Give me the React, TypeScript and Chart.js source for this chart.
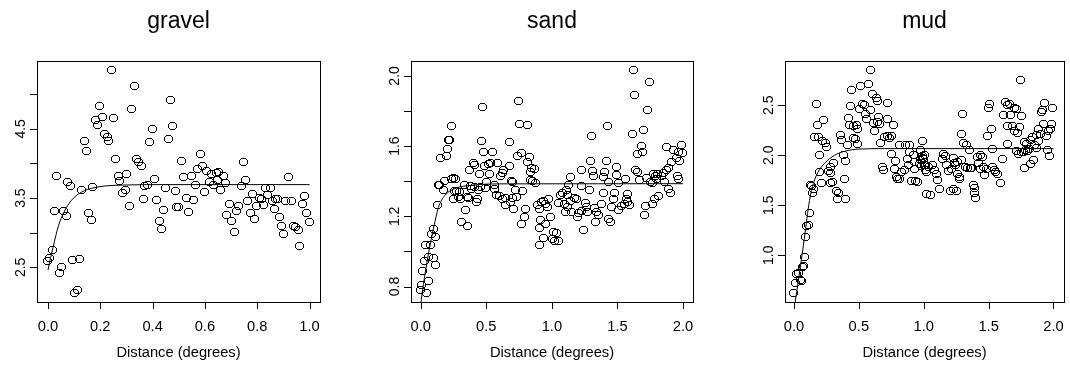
import { useEffect, useRef } from "react";
import { Chart, registerables } from "chart.js";
Chart.register(...registerables);

// ---------- DATA (distance in degrees, semivariance) ----------
const gravelPoints: number[][] = [
  [0.242,5.357],[0.329,5.116],[0.468,4.923],[0.320,4.783],[0.198,4.831],[0.208,4.668],[0.181,4.634],[0.191,4.557],
  [0.251,4.653],[0.398,4.494],[0.477,4.547],[0.217,4.432],[0.226,4.383],[0.233,4.330],[0.390,4.316],[0.459,4.355],
  [0.138,4.321],[0.148,4.181],[0.260,4.061],[0.337,4.066],[0.347,4.017],[0.356,3.960],[0.033,3.825],[0.075,3.733],
  [0.085,3.680],[0.129,3.618],[0.172,3.661],[0.268,3.820],[0.302,3.844],[0.275,3.748],[0.284,3.574],[0.296,3.613],
  [0.408,3.781],[0.370,3.671],[0.381,3.685],[0.451,3.651],[0.486,3.608],[0.365,3.483],[0.416,3.473],[0.311,3.381],
  [0.442,3.333],[0.491,3.377],[0.024,3.314],[0.059,3.309],[0.070,3.247],[0.156,3.280],[0.165,3.189],[0.426,3.165],
  [0.434,3.054],[0.017,2.755],[0.006,2.640],[0.000,2.587],[0.052,2.510],[0.043,2.418],[0.093,2.611],[0.121,2.625],
  [0.112,2.177],[0.103,2.134],
  [0.510,4.041],[0.582,4.138],[0.746,4.017],[0.920,3.801],[0.570,3.926],[0.589,3.960],[0.607,3.897],[0.625,3.844],
  [0.643,3.868],[0.652,3.878],[0.670,3.820],[0.518,3.810],[0.547,3.820],[0.564,3.695],[0.616,3.733],[0.634,3.695],
  [0.650,3.767],[0.678,3.714],[0.660,3.622],[0.599,3.589],[0.756,3.762],[0.738,3.671],[0.530,3.502],[0.555,3.478],
  [0.500,3.367],[0.537,3.300],[0.693,3.420],[0.684,3.251],[0.703,3.165],[0.712,3.011],[0.720,3.314],[0.728,3.386],
  [0.763,3.459],[0.781,3.560],[0.773,3.285],[0.791,3.198],[0.797,3.386],[0.808,3.507],[0.816,3.483],[0.825,3.406],
  [0.831,3.642],[0.850,3.642],[0.841,3.541],[0.858,3.463],[0.868,3.483],[0.867,3.348],[0.879,3.483],[0.885,3.227],
  [0.893,3.097],[0.901,2.977],[0.910,3.463],[0.930,3.454],[0.937,3.097],[0.947,3.078],[0.956,3.035],[0.963,2.813],
  [0.973,3.415],[0.982,3.536],[0.990,3.280],[0.998,3.160],
];
const gravelFit: number[][] = [
  [0,2.46],[0.01,2.64],[0.02,2.80],[0.04,3.10],[0.06,3.29],[0.08,3.42],[0.10,3.51],[0.13,3.59],
  [0.17,3.645],[0.22,3.676],[0.30,3.690],[0.45,3.695],[1.0,3.695],
];

const sandPoints: number[][] = [
  [0.470,1.824],[0.749,1.856],[0.756,1.728],[0.817,1.722],[0.231,1.713],[0.213,1.637],[0.216,1.633],[0.206,1.584],
  [0.198,1.544],[0.150,1.533],[0.462,1.632],[0.678,1.626],[0.480,1.564],[0.548,1.568],[0.736,1.544],[0.766,1.559],
  [0.827,1.540],[0.403,1.506],[0.409,1.491],[0.373,1.466],[0.485,1.485],[0.518,1.497],[0.535,1.504],[0.586,1.506],
  [0.635,1.463],[0.675,1.485],[0.622,1.449],[0.449,1.440],[0.525,1.444],[0.812,1.510],[0.843,1.474],[0.868,1.472],
  [0.840,1.453],[0.605,1.430],[0.249,1.419],[0.269,1.415],[0.236,1.411],[0.840,1.406],[0.852,1.402],[0.878,1.392],
  [0.700,1.396],[0.690,1.404],[0.183,1.400],[0.132,1.377],[0.144,1.381],[0.332,1.381],[0.381,1.371],[0.457,1.369],
  [0.495,1.360],[0.566,1.381],[0.502,1.396],[0.388,1.356],[0.408,1.367],[0.177,1.352],[0.274,1.345],[0.294,1.337],
  [0.261,1.347],[0.249,1.299],[0.287,1.310],[0.302,1.297],[0.355,1.310],[0.365,1.306],[0.566,1.354],[0.579,1.324],
  [0.599,1.316],[0.622,1.299],[0.643,1.267],[0.650,1.306],[0.698,1.306],[0.688,1.282],[0.721,1.352],[0.733,1.308],
  [0.711,1.240],[0.779,1.343],[0.799,1.240],[0.789,1.199],[0.771,1.155],[0.426,1.280],[0.434,1.301],[0.439,1.351],
  [0.342,1.237],[0.312,1.168],[0.353,1.147],[0.127,1.267],[0.094,1.128],[0.083,1.102],[0.114,1.085],[0.035,1.035],
  [0.076,1.035],[0.028,0.944],[0.063,0.967],[0.101,0.963],[0.109,0.921],[0.015,0.887],[0.056,0.834],[0.007,0.811],
  [0.000,0.783],[0.046,0.765],[0.891,1.267],[0.918,1.280],[0.936,1.286],[0.954,1.273],[0.977,1.301],[0.964,1.252],
  [0.990,1.197],[0.914,1.181],[0.906,1.134],[0.939,1.077],[0.904,1.035],[0.950,1.157],[1.013,1.110],[1.008,1.069],
  [0.909,1.244],
  [1.622,2.036],[1.741,1.966],[1.630,1.890],[1.731,1.808],[1.422,1.713],[1.300,1.656],[1.612,1.671],[1.701,1.692],
  [1.681,1.601],[1.655,1.555],[1.693,1.565],[1.871,1.596],[1.985,1.605],[1.927,1.577],[1.967,1.565],[1.995,1.563],
  [1.947,1.535],[1.912,1.508],[1.889,1.474],[1.970,1.518],[1.295,1.514],[1.417,1.514],[1.226,1.465],[1.309,1.459],
  [1.317,1.432],[1.404,1.451],[1.490,1.482],[1.495,1.436],[1.391,1.426],[1.432,1.396],[1.505,1.390],[1.561,1.415],
  [1.637,1.465],[1.652,1.455],[1.670,1.408],[1.724,1.421],[1.777,1.440],[1.787,1.432],[1.808,1.440],[1.833,1.432],
  [1.851,1.449],[1.873,1.466],[1.797,1.410],[1.858,1.396],[1.955,1.430],[1.965,1.411],[1.749,1.394],[1.767,1.390],
  [1.145,1.423],[1.229,1.371],[1.285,1.351],[1.130,1.377],[1.115,1.349],[1.081,1.335],[1.066,1.324],[1.048,1.276],
  [1.122,1.320],[1.173,1.307],[1.186,1.297],[1.142,1.288],[1.094,1.271],[1.122,1.253],[1.102,1.227],[1.147,1.225],
  [1.205,1.221],[1.193,1.195],[1.224,1.232],[1.256,1.278],[1.264,1.254],[1.274,1.227],[1.325,1.249],[1.337,1.225],
  [1.358,1.210],[1.332,1.168],[1.376,1.273],[1.396,1.335],[1.435,1.187],[1.447,1.168],[1.452,1.256],[1.467,1.299],
  [1.475,1.335],[1.510,1.238],[1.531,1.257],[1.554,1.269],[1.579,1.280],[1.594,1.263],[1.571,1.301],[1.579,1.326],
  [1.244,1.124],[1.015,1.111],[1.038,1.104],[1.053,1.062],[1.020,1.062],[1.711,1.261],[1.706,1.210],[1.764,1.270],
  [1.779,1.301],[1.810,1.314],[1.889,1.358],[1.901,1.331],
];
const sandFit: number[][] = [
  [0,0.70],[0.02,0.81],[0.06,0.99],[0.10,1.14],[0.135,1.25],[0.185,1.32],[0.26,1.358],[0.39,1.377],[0.6,1.385],[2.0,1.386],
];

const mudPoints: number[][] = [
  [0.587,2.857],[0.574,2.710],[0.513,2.690],[0.447,2.650],[0.605,2.617],[0.633,2.570],[0.640,2.543],[0.170,2.510],
  [0.531,2.510],[0.540,2.500],[0.724,2.527],[0.437,2.490],[0.503,2.460],[0.549,2.410],[0.591,2.457],[0.559,2.367],
  [0.419,2.377],[0.650,2.380],[0.663,2.310],[0.647,2.337],[0.719,2.360],[0.765,2.303],[0.610,2.327],[0.620,2.243],
  [0.427,2.300],[0.457,2.293],[0.480,2.300],[0.493,2.267],[0.178,2.300],[0.229,2.350],[0.157,2.183],[0.190,2.180],
  [0.223,2.140],[0.244,2.120],[0.252,2.087],[0.195,2.000],[0.358,2.200],[0.366,2.153],[0.411,2.107],[0.462,2.173],
  [0.478,2.167],[0.493,2.110],[0.670,2.127],[0.694,2.183],[0.719,2.190],[0.737,2.177],[0.754,2.197],[0.378,2.003],
  [0.401,1.940],[0.302,1.927],[0.282,1.883],[0.264,1.840],[0.279,1.827],[0.200,1.833],[0.210,1.720],[0.285,1.723],
  [0.297,1.733],[0.325,1.640],[0.343,1.627],[0.338,1.567],[0.396,1.567],[0.386,1.760],[0.134,1.693],[0.127,1.700],
  [0.147,1.667],[0.145,1.627],[0.119,1.420],[0.109,1.300],[0.099,1.293],[0.091,1.183],[0.084,0.980],[0.071,0.893],
  [0.066,0.880],[0.038,0.820],[0.023,0.813],[0.048,0.753],[0.061,0.743],[0.010,0.723],[0.000,0.623],[0.752,2.017],
  [0.785,1.943],[0.777,1.867],[0.683,1.883],[0.691,1.850],[0.813,2.100],[0.861,2.107],[0.894,2.100],[0.891,2.037],
  [0.921,2.007],[0.872,1.960],[0.930,1.933],[0.973,1.950],[0.998,1.967],[0.826,1.837],[0.851,1.850],[0.790,1.783],
  [0.800,1.760],[0.815,1.763],[0.879,1.900],[0.927,1.860],[0.902,1.740],[0.940,1.743],[0.950,1.730],[0.988,2.147],
  [0.976,2.057],[0.966,1.917],[0.983,1.893],[1.003,1.907],[1.014,1.850],[1.024,1.617],
  [1.745,2.750],[1.504,2.510],[1.496,2.473],[1.628,2.533],[1.643,2.507],[1.661,2.510],[1.697,2.477],[1.715,2.467],
  [1.618,2.407],[1.671,2.400],[1.755,2.390],[1.933,2.523],[1.910,2.433],[1.918,2.450],[1.994,2.477],[1.301,2.410],
  [1.293,2.213],[1.522,2.267],[1.494,2.193],[1.643,2.290],[1.682,2.290],[1.700,2.240],[1.725,2.220],[1.737,2.283],
  [1.885,2.267],[1.923,2.317],[1.897,2.217],[1.987,2.310],[1.979,2.263],[1.959,2.240],[1.946,2.190],[1.870,2.200],
  [1.839,2.180],[1.824,2.157],[1.776,2.133],[1.793,2.113],[1.715,2.040],[1.728,2.013],[1.750,2.033],[1.771,2.033],
  [1.784,2.050],[1.801,2.040],[1.814,2.067],[1.852,2.100],[1.867,2.077],[1.882,2.143],[1.956,2.057],[1.971,1.990],
  [1.844,1.957],[1.822,1.917],[1.776,1.873],[1.606,1.967],[1.643,2.110],[1.529,2.060],[1.435,2.000],[1.450,1.980],
  [1.003,2.007],[0.988,1.977],[1.153,2.013],[1.166,1.993],[1.143,1.963],[1.229,1.973],[1.259,1.933],[1.288,1.957],
  [1.244,1.907],[1.306,2.127],[1.326,2.107],[1.351,2.050],[1.415,1.987],[1.423,1.927],[1.435,1.867],[1.319,1.883],
  [1.339,1.877],[1.357,1.877],[1.370,1.877],[1.458,1.880],[1.466,1.807],[1.484,1.860],[1.532,1.883],[1.542,1.857],
  [1.552,1.833],[1.572,1.817],[1.593,1.723],[1.382,1.700],[1.394,1.673],[1.389,1.627],[1.399,1.577],[0.993,1.990],
  [1.014,1.907],[1.034,1.883],[1.064,1.900],[1.082,1.850],[1.024,1.833],[1.098,1.813],[1.110,1.750],[1.123,1.667],
  [1.052,1.607],[1.209,1.643],[1.232,1.667],[1.255,1.640],[1.174,1.900],[1.191,1.843],[1.212,1.863],[1.237,1.927],
  [1.257,1.817],[1.278,1.763],[1.273,1.780],
];
const mudFit: number[][] = [
  [0,0.45],[0.04,0.80],[0.08,1.17],[0.12,1.55],[0.15,1.72],[0.185,1.83],[0.236,1.92],[0.312,2.00],[0.39,2.04],
  [0.5,2.062],[0.7,2.067],[2.0,2.067],
];

// ---------- TICKS & LABELS ----------
const panelTitles = ["gravel", "sand", "mud"];
const xAxisTitle = "Distance (degrees)";
const gravelXTicks = [0, 0.2, 0.4, 0.6, 0.8, 1.0];
const gravelXTickLabels = ["0.0", "0.2", "0.4", "0.6", "0.8", "1.0"];
const gravelYTicks = [2.5, 3.0, 3.5, 4.0, 4.5, 5.0];
const gravelYTickLabels = ["2.5", "", "3.5", "", "4.5", ""];
const sandXTicks = [0, 0.5, 1.0, 1.5, 2.0];
const sandXTickLabels = ["0.0", "0.5", "1.0", "1.5", "2.0"];
const sandYTicks = [0.8, 1.0, 1.2, 1.4, 1.6, 1.8, 2.0];
const sandYTickLabels = ["0.8", "", "1.2", "", "1.6", "", "2.0"];
const mudXTicks = [0, 0.5, 1.0, 1.5, 2.0];
const mudXTickLabels = ["0.0", "0.5", "1.0", "1.5", "2.0"];
const mudYTicks = [1.0, 1.5, 2.0, 2.5];
const mudYTickLabels = ["1.0", "1.5", "2.0", "2.5"];

// ---------- LAYOUT ----------
const W = 1070, H = 372;
const S = 1.05; // slight horizontal stretch of the original picture
const FONT = '"Liberation Sans", Arial, Helvetica, sans-serif';

const PANELS = [
  { title: panelTitles[0], pts: gravelPoints, fit: gravelFit, xt: gravelXTicks, xl: gravelXTickLabels, yt: gravelYTicks, yl: gravelYTickLabels,
    box: [37, 61, 320, 302], xr: [-0.042, 1.04], yr: [2.0, 5.48] },
  { title: panelTitles[1], pts: sandPoints, fit: sandFit, xt: sandXTicks, xl: sandXTickLabels, yt: sandYTicks, yl: sandYTickLabels,
    box: [411, 61, 693, 302], xr: [-0.074, 2.076], yr: [0.712, 2.085] },
  { title: panelTitles[2], pts: mudPoints, fit: mudFit, xt: mudXTicks, xl: mudXTickLabels, yt: mudYTicks, yl: mudYTickLabels,
    box: [785, 61, 1067, 302], xr: [-0.069, 2.081], yr: [0.533, 2.943] },
];

function sText(ctx: CanvasRenderingContext2D, t: string, x: number, y: number, rot = false, s = S) {
  ctx.save();
  ctx.translate(x, y);
  ctx.scale(s, 1);
  if (rot) ctx.rotate(-Math.PI / 2);
  ctx.fillText(t, 0, 0);
  ctx.restore();
}

function rAxes(p: any) {
  return {
    id: "rAxes",
    beforeDatasetsDraw(chart: any) {
      chart.ctx.imageSmoothingEnabled = false;
    },
    afterDraw(chart: any) {
      const { ctx, chartArea: a } = chart;
      const xs = chart.scales.x, ys = chart.scales.y;
      ctx.save();
      ctx.strokeStyle = "#000";
      ctx.fillStyle = "#000";
      ctx.lineWidth = 1;
      ctx.strokeRect(Math.round(a.left) + 0.5, Math.round(a.top) + 0.5, Math.round(a.right - a.left), Math.round(a.bottom - a.top));
      ctx.beginPath();
      p.xt.forEach((v: number) => {
        const px = Math.round(xs.getPixelForValue(v)) + 0.5;
        ctx.moveTo(px, a.bottom);
        ctx.lineTo(px, a.bottom + 7);
      });
      p.yt.forEach((v: number) => {
        const py = Math.round(ys.getPixelForValue(v)) + 0.5;
        ctx.moveTo(a.left, py);
        ctx.lineTo(a.left - 7, py);
      });
      ctx.stroke();
      ctx.textAlign = "center";
      ctx.textBaseline = "alphabetic";
      ctx.font = `14px ${FONT}`;
      p.xt.forEach((v: number, i: number) => {
        if (p.xl[i]) sText(ctx, p.xl[i], xs.getPixelForValue(v), 331);
      });
      p.yt.forEach((v: number, i: number) => {
        if (p.yl[i]) sText(ctx, p.yl[i], a.left - 12, ys.getPixelForValue(v), true);
      });
      const cx = (a.left + a.right) / 2;
      sText(ctx, xAxisTitle, cx, 357);
      ctx.font = `23px ${FONT}`;
      sText(ctx, p.title, cx, 27.5, false, 1);
      ctx.restore();
    },
  };
}

// crisp 1px ring marker like R's pch = 1
const RING = [
  "..XXXXX..",
  ".X.....X.",
  "X.......X",
  "X.......X",
  "X.......X",
  "X.......X",
  ".X.....X.",
  "..XXXXX..",
];
function makeMarker() {
  const c = document.createElement("canvas");
  c.width = RING[0].length;
  c.height = RING.length;
  const g = c.getContext("2d")!;
  g.fillStyle = "#000";
  RING.forEach((row, j) => {
    for (let i = 0; i < row.length; i++) if (row[i] === "X") g.fillRect(i, j, 1, 1);
  });
  return c;
}

function makeChart(canvas: HTMLCanvasElement, p: any, marker: HTMLCanvasElement) {
  const [l, t, r, b] = p.box;
  return new Chart(canvas, {
    type: "scatter",
    data: {
      datasets: [
        {
          type: "scatter",
          data: p.pts.map((d: number[]) => ({ x: d[0], y: d[1] })),
          pointStyle: marker as any,
          pointRadius: 5,
          borderColor: "#000",
          backgroundColor: "rgba(0,0,0,0)",
          order: 1,
        },
        {
          type: "line",
          data: p.fit.map((d: number[]) => ({ x: d[0], y: d[1] })),
          borderColor: "#000",
          borderWidth: 1,
          pointRadius: 0,
          fill: false,
          cubicInterpolationMode: "monotone",
          order: 0,
        },
      ] as any,
    },
    options: {
      responsive: false,
      maintainAspectRatio: false,
      animation: false,
      events: [],
      layout: { padding: { left: l, top: t, right: W - r, bottom: H - b } },
      plugins: { legend: { display: false }, tooltip: { enabled: false }, title: { display: false } },
      scales: {
        x: { type: "linear", min: p.xr[0], max: p.xr[1], display: false },
        y: { type: "linear", min: p.yr[0], max: p.yr[1], display: false },
      },
    },
    plugins: [rAxes(p)],
  } as any);
}

export default function App() {
  const r0 = useRef<HTMLCanvasElement>(null);
  const r1 = useRef<HTMLCanvasElement>(null);
  const r2 = useRef<HTMLCanvasElement>(null);
  useEffect(() => {
    const marker = makeMarker();
    const refs = [r0, r1, r2];
    const charts = PANELS.map((p, i) => makeChart(refs[i].current!, p, marker));
    return () => charts.forEach((c) => c.destroy());
  }, []);
  const st: any = { position: "absolute", left: 0, top: 0, width: W, height: H };
  return (
    <div style={{ ...st, background: "#fff" }}>
      <canvas ref={r0} width={W} height={H} style={st} />
      <canvas ref={r1} width={W} height={H} style={st} />
      <canvas ref={r2} width={W} height={H} style={st} />
    </div>
  );
}
